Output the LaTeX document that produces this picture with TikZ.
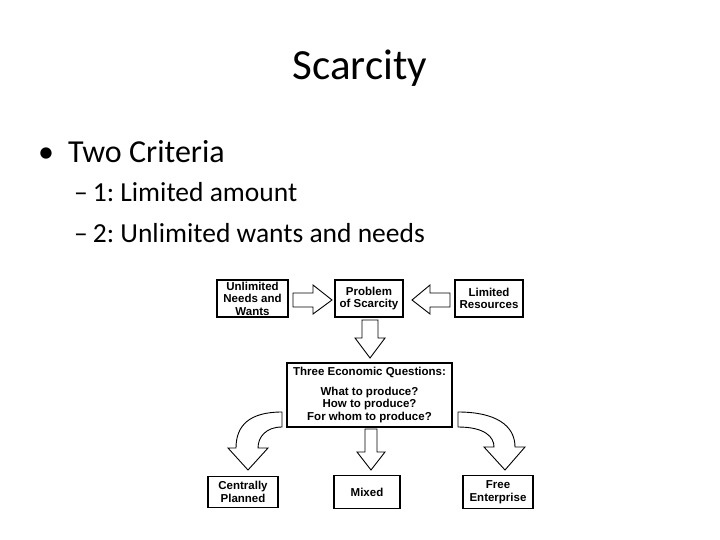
\documentclass[tikz,border=0pt]{standalone}
\usepackage{fontspec}
\setmainfont{Carlito}
\newfontfamily\arialf{Liberation Sans}
\frenchspacing
\begin{document}
\begin{tikzpicture}[x=1pt,y=-1pt,
  bx/.style={draw,line width=1.3pt,fill=white,inner sep=0pt,align=center,font=\arialf\bfseries\fontsize{11.5}{12.6}\selectfont},
  blk/.style={draw,line width=0.9pt,fill=white,line join=miter}]
\useasboundingbox (0,0) rectangle (720,540);
\node[font=\fontsize{43}{50}\selectfont] (title) at (360,68) {Scarcity};
\node[anchor=west,inner sep=0pt,font=\fontsize{32}{38}\selectfont] (b1) at (38,152) {•\hspace{14pt}Two Criteria};
\node[anchor=west,inner sep=0pt,font=\fontsize{27.5}{32}\selectfont] (b2) at (74,192) {–\hspace{5pt}1: Limited amount};
\node[anchor=west,inner sep=0pt,font=\fontsize{27.5}{32}\selectfont] (b3) at (74,233) {–\hspace{5pt}2: Unlimited wants and needs};
% boxes
\node[bx,minimum width=71pt,minimum height=37pt] (un) at (252.5,298.5) {Unlimited\\Needs and\\Wants};
\node[bx,minimum width=68pt,minimum height=37pt] (pr) at (369,298.5) {Problem\\of Scarcity};
\node[bx,minimum width=68pt,minimum height=37pt] (lr) at (489,298.5) {Limited\\Resources};
\node[bx,minimum width=165pt,minimum height=64pt] (tq) at (369.5,395) {Three Economic Questions:\\[7pt]What to produce?\\How to produce?\\For whom to produce?};
\node[bx,minimum width=70pt,minimum height=31pt] (cp) at (243,492) {Centrally\\Planned};
\node[bx,minimum width=66pt,minimum height=33pt] (mx) at (367,492) {Mixed};
\node[bx,minimum width=70pt,minimum height=33pt] (fe) at (498,492) {Free\\Enterprise};
% block arrows
\draw[blk] (293,293) -- (313,293) -- (313,285) -- (332,300) -- (313,314) -- (313,307) -- (293,307) -- cycle;
\draw[blk] (450,293) -- (430,293) -- (430,285) -- (412,300) -- (430,314) -- (430,307) -- (450,307) -- cycle;
\draw[blk] (362,320) -- (378,320) -- (378,338) -- (385,338) -- (370,358) -- (355,338) -- (362,338) -- cycle;
\draw[blk] (365,429) -- (377,429) -- (377,452) -- (385,452) -- (371,470) -- (357,452) -- (365,452) -- cycle;
\draw[blk] (282,412) .. controls (250,412) and (236,425) .. (236,448) -- (228,448) -- (248,470) -- (268,448) -- (258,448) .. controls (258,437) and (266,427) .. (282,427) -- cycle;
\draw[blk] (458,412) .. controls (495,412) and (515,425) .. (515,447) -- (525,447) -- (505,470) -- (484,447) -- (494,447) .. controls (494,437) and (485,427) .. (458,427) -- cycle;
\end{tikzpicture}
\end{document}
